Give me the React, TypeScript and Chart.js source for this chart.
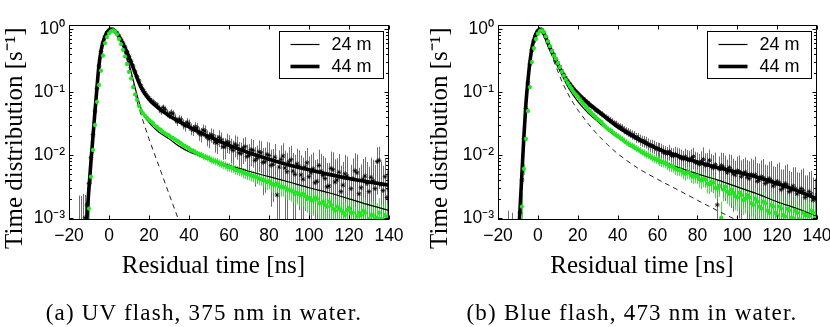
import React, { useEffect, useRef } from "react";
import { Chart, registerables } from "chart.js";

Chart.register(...registerables);

// ---------------- data ----------------
// residual time grid of the measured points, -15 … 140 ns in 1 ns steps
const TIME = [
  -15, -14, -13, -12, -11, -10, -9, -8, -7, -6,
  -5, -4, -3, -2, -1, 0, 1, 2, 3, 4,
  5, 6, 7, 8, 9, 10, 11, 12, 13, 14,
  15, 16, 17, 18, 19, 20, 21, 22, 23, 24,
  25, 26, 27, 28, 29, 30, 31, 32, 33, 34,
  35, 36, 37, 38, 39, 40, 41, 42, 43, 44,
  45, 46, 47, 48, 49, 50, 51, 52, 53, 54,
  55, 56, 57, 58, 59, 60, 61, 62, 63, 64,
  65, 66, 67, 68, 69, 70, 71, 72, 73, 74,
  75, 76, 77, 78, 79, 80, 81, 82, 83, 84,
  85, 86, 87, 88, 89, 90, 91, 92, 93, 94,
  95, 96, 97, 98, 99, 100, 101, 102, 103, 104,
  105, 106, 107, 108, 109, 110, 111, 112, 113, 114,
  115, 116, 117, 118, 119, 120, 121, 122, 123, 124,
  125, 126, 127, 128, 129, 130, 131, 132, 133, 134,
  135, 136, 137, 138, 139, 140,
];

// (a) UV flash — 44 m (black stars) and relative errors
const UV_44M = [
  0.0003, 0.0002, 0.0004, 0.001, 0.0016, 0.0035, 0.009, 0.021, 0.05, 0.115,
  0.26, 0.44, 0.6, 0.76, 0.88, 0.96, 1.0, 0.99, 0.93, 0.87,
  0.78, 0.69, 0.6, 0.52, 0.44, 0.37, 0.31, 0.26, 0.21, 0.175,
  0.15, 0.125, 0.11, 0.097, 0.088, 0.08, 0.074, 0.07, 0.065, 0.062,
  0.055, 0.05, 0.057, 0.053, 0.046, 0.043, 0.047, 0.045, 0.038, 0.034,
  0.037, 0.036, 0.031, 0.029, 0.033, 0.031, 0.026, 0.025, 0.028, 0.027,
  0.022, 0.021, 0.025, 0.024, 0.019, 0.018, 0.021, 0.02, 0.016, 0.0155,
  0.019, 0.0175, 0.0135, 0.0135, 0.0162, 0.0155, 0.0128, 0.0118, 0.0148, 0.014,
  0.0108, 0.0105, 0.0128, 0.0135, 0.0094, 0.0098, 0.0122, 0.0118, 0.0082, 0.0088,
  0.0112, 0.0108, 0.0076, 0.0078, 0.0102, 0.0098, 0.0068, 0.0071, 0.0092, 0.0023,
  0.0064, 0.0085, 0.0096, 0.0062, 0.0054, 0.0078, 0.0084, 0.0055, 0.0049, 0.0072,
  0.0066, 0.0048, 0.0041, 0.0064, 0.0075, 0.0045, 0.0052, 0.006, 0.0036, 0.0038,
  0.0068, 0.0055, 0.0047, 0.0042, 0.0031, 0.0032, 0.0061, 0.0058, 0.0037, 0.004,
  0.0053, 0.0026, 0.0033, 0.005, 0.0046, 0.0014, 0.0029, 0.0042, 0.0056, 0.0052,
  0.0024, 0.003, 0.0041, 0.0046, 0.0035, 0.0026, 0.0044, 0.0039, 0.0029, 0.0078,
  0.0082, 0.0034, 0.0027, 0.0045, 0.0021, 0.0028,
];
const UV_44M_ERR = [
  6.5, 10, 5, 1.3, 0.9, 0.5, 0.25, 0.14, 0.08, 0.05,
  0.03, 0.03, 0.02, 0.02, 0.02, 0.02, 0.02, 0.02, 0.02, 0.02,
  0.02, 0.02, 0.03, 0.03, 0.03, 0.03, 0.04, 0.04, 0.05, 0.05,
  0.06, 0.06, 0.07, 0.07, 0.08, 0.08, 0.09, 0.09, 0.1, 0.1,
  0.12, 0.13, 0.11, 0.12, 0.14, 0.13, 0.13, 0.14, 0.16, 0.15,
  0.16, 0.17, 0.18, 0.19, 0.17, 0.18, 0.21, 0.2, 0.19, 0.2,
  0.24, 0.25, 0.22, 0.23, 0.28, 0.29, 0.26, 0.27, 0.32, 0.33,
  0.3, 0.3, 0.38, 0.37, 0.34, 0.33, 0.42, 0.43, 0.38, 0.4,
  0.48, 0.5, 0.44, 0.42, 0.55, 0.52, 0.46, 0.47, 0.62, 0.6,
  0.52, 0.53, 0.7, 0.68, 0.58, 0.6, 0.78, 0.75, 0.62, 1.6,
  0.85, 0.66, 0.6, 0.88, 1.0, 0.7, 0.66, 0.95, 1.05, 0.75,
  0.8, 1.05, 1.2, 0.8, 0.72, 1.1, 0.95, 0.82, 1.3, 1.25,
  0.78, 0.9, 1.05, 1.15, 1.4, 1.35, 0.85, 0.9, 1.3, 1.2,
  0.95, 1.6, 1.35, 1.0, 1.05, 2.2, 1.4, 1.1, 0.9, 0.95,
  1.6, 1.35, 1.1, 1.0, 1.2, 1.5, 1.05, 1.15, 1.4, 0.7,
  0.65, 1.3, 1.5, 1.0, 1.7, 1.4,
];

// (a) UV flash — 24 m (green stars) and relative errors
const UV_24M = [
  null, null, null, null, null, 0.0014, 0.0045, 0.012, 0.03, 0.07,
  0.13, 0.22, 0.38, 0.6, 0.75, 0.86, 0.93, 0.96, 0.92, 0.83,
  0.7, 0.58, 0.47, 0.37, 0.28, 0.21, 0.165, 0.12, 0.092, 0.075,
  0.06, 0.051, 0.046, 0.042, 0.039, 0.036, 0.034, 0.032, 0.029, 0.028,
  0.026, 0.025, 0.023, 0.022, 0.021, 0.0205, 0.019, 0.0185, 0.0175, 0.0168,
  0.016, 0.0152, 0.0142, 0.0138, 0.0132, 0.0126, 0.0118, 0.0116, 0.011, 0.0106,
  0.0102, 0.0101, 0.0095, 0.0093, 0.009, 0.0088, 0.0083, 0.0081, 0.0079, 0.0078,
  0.0074, 0.0072, 0.007, 0.0069, 0.0065, 0.0064, 0.0063, 0.0062, 0.0058, 0.0057,
  0.0056, 0.0055, 0.0052, 0.0051, 0.005, 0.0049, 0.0047, 0.0046, 0.0045, 0.0044,
  0.0042, 0.0041, 0.004, 0.0039, 0.0037, 0.0038, 0.0035, 0.0034, 0.0033, 0.0035,
  0.0032, 0.0031, 0.0031, 0.003, 0.0028, 0.0028, 0.0027, 0.0026, 0.0024, 0.0025,
  0.0024, 0.0023, 0.0024, 0.0022, 0.002, 0.0021, 0.0019, 0.0019, 0.0021, 0.002,
  0.0017, 0.0017, 0.0018, 0.0016, 0.0015, 0.0018, 0.0016, 0.0014, 0.0013, 0.0015,
  0.0014, 0.0013, 0.0012, 0.0011, 0.0013, 0.0014, 0.0012, 0.0012, 0.0009, 0.00105,
  0.0012, 0.0011, 0.0013, 0.0012, 0.00088, 0.00095, 0.0011, 0.0011, 0.00097, 0.001,
  0.0012, 0.00097, 0.00093, 0.0011, 0.001, 0.00103,
];
const UV_24M_ERR = [
  0, 0, 0, 0, 0, 0.5, 0.25, 0.12, 0.06, 0.04,
  0.03, 0.02, 0.02, 0.02, 0.02, 0.02, 0.02, 0.02, 0.02, 0.02,
  0.02, 0.02, 0.02, 0.02, 0.02, 0.02, 0.03, 0.03, 0.03, 0.04,
  0.04, 0.04, 0.05, 0.05, 0.05, 0.05, 0.05, 0.05, 0.06, 0.06,
  0.06, 0.06, 0.07, 0.07, 0.07, 0.07, 0.08, 0.08, 0.08, 0.08,
  0.09, 0.09, 0.09, 0.09, 0.1, 0.1, 0.1, 0.1, 0.11, 0.11,
  0.11, 0.11, 0.12, 0.12, 0.12, 0.12, 0.13, 0.13, 0.14, 0.14,
  0.14, 0.14, 0.15, 0.15, 0.16, 0.16, 0.17, 0.17, 0.17, 0.17,
  0.18, 0.18, 0.19, 0.19, 0.2, 0.2, 0.2, 0.2, 0.22, 0.22,
  0.22, 0.22, 0.24, 0.24, 0.25, 0.25, 0.27, 0.27, 0.27, 0.27,
  0.3, 0.3, 0.3, 0.3, 0.32, 0.32, 0.33, 0.33, 0.35, 0.35,
  0.36, 0.36, 0.38, 0.38, 0.4, 0.4, 0.42, 0.42, 0.42, 0.42,
  0.45, 0.45, 0.48, 0.48, 0.46, 0.46, 0.52, 0.52, 0.5, 0.5,
  0.55, 0.55, 0.6, 0.6, 0.55, 0.55, 0.6, 0.6, 0.65, 0.65,
  0.62, 0.62, 0.6, 0.6, 0.7, 0.7, 0.66, 0.66, 0.7, 0.7,
  0.72, 0.72, 0.68, 0.68, 0.7, 0.7,
];

// (b) Blue flash — 44 m (black stars) and relative errors
const BLUE_44M = [
  0.0002, null, 0.0002, null, null, null, 0.0012, 0.004, 0.018, 0.055,
  0.14, 0.28, 0.47, 0.65, 0.8, 0.93, 1.0, 0.98, 0.88, 0.75,
  0.63, 0.53, 0.45, 0.39, 0.33, 0.29, 0.25, 0.215, 0.19, 0.165,
  0.148, 0.135, 0.12, 0.11, 0.1, 0.095, 0.088, 0.082, 0.077, 0.071,
  0.067, 0.062, 0.059, 0.056, 0.052, 0.05, 0.047, 0.045, 0.042, 0.04,
  0.038, 0.036, 0.034, 0.032, 0.031, 0.029, 0.028, 0.027, 0.025, 0.024,
  0.023, 0.022, 0.021, 0.0205, 0.019, 0.019, 0.0175, 0.0168, 0.0165, 0.016,
  0.015, 0.0143, 0.014, 0.0136, 0.0128, 0.0125, 0.0122, 0.0119, 0.011, 0.0106,
  0.0105, 0.0113, 0.0098, 0.0096, 0.0102, 0.0099, 0.0092, 0.0088, 0.0086, 0.0093,
  0.0084, 0.0082, 0.0089, 0.0094, 0.0076, 0.0074, 0.0071, 0.0079, 0.0085, 0.0068,
  0.0072, 0.0082, 0.0065, 0.0062, 0.007, 0.0016, 0.0059, 0.0068, 0.0064, 0.0058,
  0.0052, 0.0063, 0.0057, 0.005, 0.0048, 0.0056, 0.0054, 0.0045, 0.005, 0.0053,
  0.0044, 0.0042, 0.0049, 0.0047, 0.0048, 0.0038, 0.004, 0.0045, 0.0043, 0.0035,
  0.0037, 0.0042, 0.0039, 0.0032, 0.0034, 0.0038, 0.0036, 0.0028, 0.003, 0.0035,
  0.0033, 0.0026, 0.0027, 0.0032, 0.0029, 0.0024, 0.0026, 0.0029, 0.0027, 0.0021,
  0.0023, 0.0026, 0.0024, 0.0019, 0.002, 0.0023,
];
const BLUE_44M_ERR = [
  5.5, 0, 5, 0, 0, 0, 0.6, 0.25, 0.1, 0.05,
  0.03, 0.03, 0.02, 0.02, 0.02, 0.02, 0.02, 0.02, 0.02, 0.02,
  0.02, 0.02, 0.02, 0.02, 0.02, 0.03, 0.03, 0.03, 0.04, 0.04,
  0.04, 0.05, 0.05, 0.05, 0.06, 0.06, 0.06, 0.07, 0.07, 0.07,
  0.08, 0.08, 0.08, 0.08, 0.09, 0.09, 0.1, 0.1, 0.1, 0.1,
  0.11, 0.11, 0.12, 0.12, 0.13, 0.13, 0.14, 0.14, 0.15, 0.15,
  0.16, 0.16, 0.17, 0.17, 0.18, 0.18, 0.2, 0.2, 0.21, 0.21,
  0.22, 0.22, 0.24, 0.24, 0.25, 0.25, 0.27, 0.27, 0.3, 0.3,
  0.28, 0.28, 0.33, 0.33, 0.32, 0.32, 0.38, 0.38, 0.35, 0.35,
  0.42, 0.42, 0.38, 0.38, 0.48, 0.48, 0.45, 0.45, 0.55, 0.55,
  0.48, 0.48, 0.6, 0.6, 0.55, 1.5, 0.6, 0.6, 0.68, 0.68,
  0.62, 0.62, 0.75, 0.75, 0.68, 0.68, 0.82, 0.82, 0.72, 0.72,
  0.88, 0.88, 0.78, 0.78, 0.95, 0.95, 0.82, 0.82, 1.0, 1.0,
  0.85, 0.85, 1.05, 1.05, 0.9, 0.9, 1.1, 1.1, 0.95, 0.95,
  1.15, 1.15, 0.98, 0.98, 1.2, 1.2, 1.0, 1.0, 1.25, 1.25,
  1.05, 1.05, 1.3, 1.3, 1.1, 1.1,
];

// (b) Blue flash — 24 m (green stars) and relative errors
const BLUE_24M = [
  null, null, null, null, null, null, null, 0.0015, 0.006, 0.018,
  0.05, 0.12, 0.3, 0.5, 0.7, 0.85, 0.94, 0.96, 0.9, 0.77,
  0.64, 0.54, 0.45, 0.38, 0.34, 0.29, 0.25, 0.21, 0.182, 0.158,
  0.14, 0.125, 0.112, 0.1, 0.092, 0.085, 0.077, 0.07, 0.064, 0.058,
  0.054, 0.05, 0.046, 0.043, 0.04, 0.037, 0.035, 0.033, 0.03, 0.028,
  0.026, 0.025, 0.024, 0.022, 0.021, 0.02, 0.019, 0.018, 0.017, 0.016,
  0.0152, 0.0145, 0.014, 0.0135, 0.0128, 0.0122, 0.0118, 0.0112, 0.0108, 0.0102,
  0.01, 0.0096, 0.0091, 0.0088, 0.0086, 0.0084, 0.008, 0.0077, 0.0076, 0.0074,
  0.007, 0.0066, 0.0066, 0.0064, 0.006, 0.0058, 0.0058, 0.0056, 0.0052, 0.005,
  0.0053, 0.0052, 0.0047, 0.0045, 0.0047, 0.0046, 0.0041, 0.0039, 0.0042, 0.0041,
  0.0035, 0.0034, 0.0037, 0.0036, 0.003, 0.0029, 0.0032, 0.001, 0.0028, 0.0031,
  0.0026, 0.0024, 0.0028, 0.0025, 0.0022, 0.0021, 0.0025, 0.0023, 0.0019, 0.002,
  0.0023, 0.0021, 0.0017, 0.0016, 0.002, 0.0018, 0.0015, 0.0014, 0.0018, 0.0017,
  0.0013, 0.0012, 0.0016, 0.0015, 0.0012, 0.0011, 0.0015, 0.0014, 0.0011, 0.00105,
  0.0014, 0.0013, 0.001, 0.00098, 0.0013, 0.0012, 0.00095, 0.00092, 0.0012, 0.0011,
  0.0011, 0.00105, 0.0013, 0.0012, 0.001, 0.00098,
];
const BLUE_24M_ERR = [
  0, 0, 0, 0, 0, 0, 0, 0.6, 0.2, 0.08,
  0.04, 0.03, 0.02, 0.02, 0.02, 0.02, 0.02, 0.02, 0.02, 0.02,
  0.02, 0.02, 0.02, 0.02, 0.02, 0.02, 0.03, 0.03, 0.03, 0.04,
  0.04, 0.04, 0.05, 0.05, 0.05, 0.05, 0.05, 0.05, 0.06, 0.06,
  0.06, 0.06, 0.07, 0.07, 0.07, 0.07, 0.08, 0.08, 0.08, 0.08,
  0.09, 0.09, 0.09, 0.09, 0.1, 0.1, 0.1, 0.1, 0.11, 0.11,
  0.11, 0.11, 0.12, 0.12, 0.12, 0.12, 0.13, 0.13, 0.14, 0.14,
  0.14, 0.14, 0.15, 0.15, 0.16, 0.16, 0.17, 0.17, 0.17, 0.17,
  0.18, 0.18, 0.19, 0.19, 0.2, 0.2, 0.2, 0.2, 0.22, 0.22,
  0.22, 0.22, 0.24, 0.24, 0.25, 0.25, 0.27, 0.27, 0.27, 0.27,
  0.3, 0.3, 0.3, 0.3, 0.32, 0.32, 0.33, 0.8, 0.35, 0.35,
  0.36, 0.36, 0.38, 0.38, 0.4, 0.4, 0.42, 0.42, 0.42, 0.42,
  0.45, 0.45, 0.48, 0.48, 0.46, 0.46, 0.52, 0.52, 0.5, 0.5,
  0.55, 0.55, 0.6, 0.6, 0.55, 0.55, 0.6, 0.6, 0.65, 0.65,
  0.62, 0.62, 0.6, 0.6, 0.7, 0.7, 0.66, 0.66, 0.7, 0.7,
  0.72, 0.72, 0.68, 0.68, 0.7, 0.7,
];

// fitted / model curves
const FIT_TIME = [
  -12, -11, -10, -9, -8, -7, -6, -5, -4, -3, -2, -1, 0, 1, 2, 3, 4, 5, 6, 7, 8, 9, 10,
  12, 14, 16, 18, 20, 22, 25, 30, 35, 40, 50, 60, 70, 80, 90, 100, 110, 120, 130, 140,
];
const UV_FIT_44M = [
  0.0002, 0.001, 0.003, 0.008, 0.02, 0.05, 0.12, 0.27, 0.45, 0.62, 0.77, 0.9, 0.97, 1.0, 0.98, 0.93, 0.86, 0.77, 0.68, 0.59, 0.51, 0.43, 0.36,
  0.25, 0.17, 0.12, 0.093, 0.077, 0.066, 0.055, 0.042, 0.034, 0.028, 0.0195, 0.0142, 0.0108, 0.0085, 0.0069, 0.0058, 0.0049, 0.0042, 0.0037, 0.0033,
];
const UV_FIT_24M = [
  0.0002, 0.001, 0.003, 0.008, 0.02, 0.05, 0.12, 0.27, 0.45, 0.62, 0.77, 0.9, 0.97, 1.0, 0.98, 0.92, 0.84, 0.74, 0.63, 0.53, 0.43, 0.35, 0.28,
  0.16, 0.09, 0.055, 0.04, 0.033, 0.028, 0.023, 0.018, 0.0138, 0.0112, 0.0086, 0.0068, 0.0055, 0.0045, 0.0037, 0.003, 0.0025, 0.002, 0.0016, 0.0013,
];
const UV_DIRECT = [
  0.0002, 0.001, 0.003, 0.008, 0.02, 0.05, 0.12, 0.27, 0.45, 0.62, 0.77, 0.9, 0.97, 1.0, 0.97, 0.91, 0.83, 0.73, 0.62, 0.51, 0.41, 0.32, 0.25,
  0.14, 0.072, 0.044, 0.028, 0.018, 0.012, 0.0066, 0.0024, 0.00088, 0.0003, null, null, null, null, null, null, null, null, null, null,
];
const BLUE_FIT_44M = [
  0.00001, 0.00005, 0.0003, 0.0013, 0.005, 0.02, 0.065, 0.15, 0.3, 0.5, 0.68, 0.84, 0.96, 1.0, 0.96, 0.86, 0.73, 0.61, 0.51, 0.44, 0.38, 0.32, 0.28,
  0.21, 0.165, 0.135, 0.112, 0.096, 0.083, 0.068, 0.05, 0.037, 0.028, 0.018, 0.0126, 0.0097, 0.0077, 0.0063, 0.0053, 0.0044, 0.0035, 0.0027, 0.002,
];
const BLUE_FIT_24M = [
  0.00001, 0.00005, 0.0003, 0.0013, 0.005, 0.02, 0.065, 0.15, 0.3, 0.5, 0.68, 0.84, 0.96, 1.0, 0.96, 0.85, 0.72, 0.6, 0.5, 0.42, 0.36, 0.3, 0.26,
  0.19, 0.14, 0.108, 0.087, 0.071, 0.06, 0.047, 0.034, 0.025, 0.019, 0.012, 0.0084, 0.0064, 0.005, 0.004, 0.0031, 0.0024, 0.0018, 0.0014, 0.00105,
];
const BLUE_DIRECT = [
  0.00001, 0.00005, 0.0003, 0.0013, 0.005, 0.02, 0.065, 0.15, 0.3, 0.5, 0.68, 0.84, 0.96, 1.0, 0.95, 0.83, 0.69, 0.56, 0.46, 0.38, 0.31, 0.26, 0.215,
  0.15, 0.11, 0.083, 0.065, 0.052, 0.043, 0.032, 0.021, 0.0145, 0.0105, 0.0062, 0.0041, 0.0028, 0.0019, 0.0013, 0.0009, 0.0006, null, null, null,
];

const X_TICKS = [-20, 0, 20, 40, 60, 80, 100, 120, 140];
const Y_TICKS = [0.001, 0.01, 0.1, 1];
const Y_TICK_LABELS = ["10\u207B\u00B3", "10\u207B\u00B2", "10\u207B\u00B9", "10\u2070"];
const Y_MINOR = [2, 3, 4, 5, 6, 7, 8, 9];
const LEGEND_LABELS = ["24 m", "44 m"];
const X_TITLE = "Residual time [ns]";
const Y_TITLE = "Time distribution [s\u207B\u00B9]";
const CAPTIONS = ["(a) UV flash, 375 nm in water.", "(b) Blue flash, 473 nm in water."];

// ---------------- styling ----------------
const SANS = '"Liberation Sans", Arial, Helvetica, sans-serif';
const SERIF = '"Liberation Serif", "Times New Roman", serif';
const GREEN = "#22e622";
const X_MIN = -20;
const X_MAX = 140;
const Y_MIN = 0.00092;
const Y_MAX = 1.17;

const pts = (xs: number[], ys: (number | null)[]) => xs.map((x, i) => ({ x, y: ys[i] }));

const errorBarPlugin = {
  id: "errorBars",
  beforeDatasetsDraw(chart: any) {
    const { ctx, chartArea: a, scales } = chart;
    ctx.save();
    ctx.beginPath();
    ctx.rect(a.left, a.top, a.right - a.left, a.bottom - a.top);
    ctx.clip();
    chart.data.datasets.forEach((ds: any) => {
      const errs = ds.errorBars;
      if (!errs) return;
      ctx.strokeStyle = ds.errorBarColor;
      ctx.lineWidth = 1;
      ctx.beginPath();
      ds.data.forEach((p: any, i: number) => {
        if (p.y == null || !errs[i]) return;
        const x = Math.round(scales.x.getPixelForValue(p.x)) + 0.5;
        const lo = p.y * (1 - errs[i]);
        const yLo = lo > 0 ? scales.y.getPixelForValue(lo) : a.bottom + 2;
        const yHi = scales.y.getPixelForValue(p.y * (1 + errs[i]));
        ctx.moveTo(x, yLo);
        ctx.lineTo(x, yHi);
      });
      ctx.stroke();
    });
    ctx.restore();
  },
};

const framePlugin = {
  id: "frame",
  afterDatasetsDraw(chart: any) {
    const { ctx, chartArea: a, scales } = chart;
    const L = Math.round(a.left) + 0.5;
    const R = Math.round(a.right) - 0.5;
    const T = Math.round(a.top) + 0.5;
    const B = Math.round(a.bottom) - 0.5;
    ctx.save();
    ctx.strokeStyle = "#000";
    ctx.lineWidth = 1;
    ctx.strokeRect(L, T, R - L, B - T);
    ctx.beginPath();
    X_TICKS.forEach((v) => {
      const x = Math.round(scales.x.getPixelForValue(v)) + 0.5;
      ctx.moveTo(x, B);
      ctx.lineTo(x, B - 4);
      ctx.moveTo(x, T);
      ctx.lineTo(x, T + 4);
    });
    Y_TICKS.forEach((v) => {
      const y = Math.round(scales.y.getPixelForValue(v)) + 0.5;
      ctx.moveTo(L, y);
      ctx.lineTo(L + 4, y);
      ctx.moveTo(R, y);
      ctx.lineTo(R - 4, y);
      Y_MINOR.forEach((m) => {
        const mv = v * m;
        if (mv > Y_MAX) return;
        const ym = Math.round(scales.y.getPixelForValue(mv)) + 0.5;
        ctx.moveTo(L, ym);
        ctx.lineTo(L + 2.5, ym);
        ctx.moveTo(R, ym);
        ctx.lineTo(R - 2.5, ym);
      });
    });
    ctx.stroke();
    ctx.restore();
  },
};

const legendPlugin = {
  id: "boxLegend",
  afterDraw(chart: any) {
    const { ctx, chartArea: a } = chart;
    const items = chart.data.datasets.filter((d: any) => d.inLegend);
    const w = 104;
    const h = 47;
    const x0 = Math.round(a.right - 6 - w) + 0.5;
    const y0 = Math.round(a.top + 6) + 0.5;
    ctx.save();
    ctx.fillStyle = "#fff";
    ctx.fillRect(x0, y0, w, h);
    ctx.strokeStyle = "#000";
    ctx.lineWidth = 1;
    ctx.strokeRect(x0, y0, w, h);
    items.forEach((d: any, i: number) => {
      const cy = y0 + 13 + i * 22;
      ctx.strokeStyle = d.borderColor;
      ctx.lineWidth = d.borderWidth;
      ctx.beginPath();
      ctx.moveTo(x0 + 11, cy);
      ctx.lineTo(x0 + 40, cy);
      ctx.stroke();
      ctx.fillStyle = "#000";
      ctx.font = `18px ${SANS}`;
      ctx.textBaseline = "middle";
      ctx.textAlign = "left";
      ctx.fillText(d.label, x0 + 52, cy + 1);
    });
    ctx.restore();
  },
};

type PanelCfg = {
  left: number;
  yWidth: number;
  padRight: number;
  yTitlePad: number;
  black: (number | null)[];
  blackErr: number[];
  green: (number | null)[];
  greenErr: number[];
  fit44: (number | null)[];
  fit24: (number | null)[];
  direct: (number | null)[];
};

function buildConfig(c: PanelCfg): any {
  return {
    type: "scatter",
    data: {
      datasets: [
        {
          label: "44 m data",
          data: pts(TIME, c.black),
          errorBars: c.blackErr,
          errorBarColor: "rgba(85,85,85,0.85)",
          pointStyle: "star",
          pointRadius: 2.4,
          borderColor: "#000",
          backgroundColor: "#000",
          borderWidth: 0.8,
          showLine: false,
          order: 3,
          clip: 0,
        },
        {
          label: "24 m data",
          data: pts(TIME, c.green),
          errorBars: c.greenErr,
          errorBarColor: "rgba(40,220,40,0.85)",
          pointStyle: "star",
          pointRadius: 2.1,
          borderColor: GREEN,
          backgroundColor: GREEN,
          borderWidth: 1.3,
          showLine: false,
          order: 0,
          clip: 0,
        },
        {
          label: "direct",
          data: pts(FIT_TIME, c.direct),
          showLine: true,
          pointRadius: 0,
          borderColor: "#222",
          borderWidth: 1,
          borderDash: [5, 4],
          cubicInterpolationMode: "monotone",
          order: 2,
          clip: 0,
        },
        {
          label: LEGEND_LABELS[0],
          inLegend: true,
          data: pts(FIT_TIME, c.fit24),
          showLine: true,
          pointRadius: 0,
          borderColor: "#000",
          borderWidth: 1.2,
          cubicInterpolationMode: "monotone",
          order: 1,
          clip: 0,
        },
        {
          label: LEGEND_LABELS[1],
          inLegend: true,
          data: pts(FIT_TIME, c.fit44),
          showLine: true,
          pointRadius: 0,
          borderColor: "#000",
          borderWidth: 3.6,
          cubicInterpolationMode: "monotone",
          order: 1,
          clip: 0,
        },
      ],
    },
    options: {
      animation: false,
      responsive: false,
      devicePixelRatio: 1,
      layout: { padding: { left: 0, top: 25, right: c.padRight, bottom: 40 } },
      plugins: { legend: { display: false }, tooltip: { enabled: false } },
      events: [],
      scales: {
        x: {
          type: "linear",
          min: X_MIN,
          max: X_MAX,
          afterBuildTicks: (s: any) => {
            s.ticks = X_TICKS.map((v) => ({ value: v }));
          },
          afterFit: (s: any) => {
            s.height = 67;
            s.paddingLeft = 0;
            s.paddingRight = 0;
          },
          grid: { display: false, drawTicks: false },
          border: { display: false },
          ticks: {
            padding: 6,
            color: "#000",
            autoSkip: false,
            maxRotation: 0,
            font: { family: SANS, size: 17.5 },
            callback: (v: any) => {
              const n = Number(v);
              return n < 0 ? "\u2212" + Math.abs(n) : String(n);
            },
          },
          title: {
            display: true,
            text: X_TITLE + "\u00a0\u00a0\u00a0\u00a0\u00a0",
            color: "#000",
            font: { family: SERIF, size: 25, lineHeight: 1.2 },
            padding: { top: 0, bottom: 6 },
          },
        },
        y: {
          type: "logarithmic",
          min: Y_MIN,
          max: Y_MAX,
          afterBuildTicks: (s: any) => {
            s.ticks = Y_TICKS.map((v) => ({ value: v }));
          },
          afterFit: (s: any) => {
            s.width = c.yWidth;
            s.paddingTop = 0;
            s.paddingBottom = 0;
          },
          grid: { display: false, drawTicks: false },
          border: { display: false },
          ticks: {
            padding: 4,
            color: "#000",
            autoSkip: false,
            font: { family: SANS, size: 17.5 },
            callback: (v: any) => {
              const n = Number(v);
              const i = Y_TICKS.findIndex((t) => Math.abs(t - n) < t * 1e-6);
              return i >= 0 ? Y_TICK_LABELS[i] : "";
            },
          },
          title: {
            display: true,
            text: Y_TITLE + "\u00a0\u00a0\u00a0\u00a0\u00a0",
            color: "#000",
            font: { family: SERIF, size: 25, lineHeight: 1.2 },
            padding: { top: c.yTitlePad, bottom: 0 },
          },
        },
      },
    },
    plugins: [errorBarPlugin, framePlugin, legendPlugin],
  };
}

function Panel({ cfg }: { cfg: PanelCfg }) {
  const ref = useRef<HTMLCanvasElement | null>(null);
  useEffect(() => {
    if (!ref.current) return;
    const chart = new Chart(ref.current, buildConfig(cfg));
    return () => chart.destroy();
  }, []);
  return (
    <canvas
      ref={ref}
      width={415}
      height={327}
      style={{ position: "absolute", left: cfg.left, top: 0, width: 415, height: 327 }}
    />
  );
}

const LEFT_PANEL: PanelCfg = {
  left: 0,
  yWidth: 69,
  padRight: 26,
  yTitlePad: 0,
  black: UV_44M,
  blackErr: UV_44M_ERR,
  green: UV_24M,
  greenErr: UV_24M_ERR,
  fit44: UV_FIT_44M,
  fit24: UV_FIT_24M,
  direct: UV_DIRECT,
};

const RIGHT_PANEL: PanelCfg = {
  left: 415,
  yWidth: 83,
  padRight: 13,
  yTitlePad: 10,
  black: BLUE_44M,
  blackErr: BLUE_44M_ERR,
  green: BLUE_24M,
  greenErr: BLUE_24M_ERR,
  fit44: BLUE_FIT_44M,
  fit24: BLUE_FIT_24M,
  direct: BLUE_DIRECT,
};

function Caption({ text, center }: { text: string; center: number }) {
  return (
    <div
      style={{
        position: "absolute",
        left: center - 250,
        width: 500,
        top: 299,
        height: 28,
        lineHeight: "28px",
        textAlign: "center",
        fontFamily: SERIF,
        fontSize: 23,
        letterSpacing: "1.2px",
        color: "#000",
        whiteSpace: "nowrap",
      }}
    >
      {text}
    </div>
  );
}

export default function App() {
  return (
    <div
      style={{
        position: "fixed",
        left: 0,
        top: 0,
        width: 830,
        height: 327,
        background: "#fff",
        overflow: "hidden",
      }}
    >
      <Panel cfg={LEFT_PANEL} />
      <Panel cfg={RIGHT_PANEL} />
      <Caption text={CAPTIONS[0]} center={204} />
      <Caption text={CAPTIONS[1]} center={632} />
    </div>
  );
}
